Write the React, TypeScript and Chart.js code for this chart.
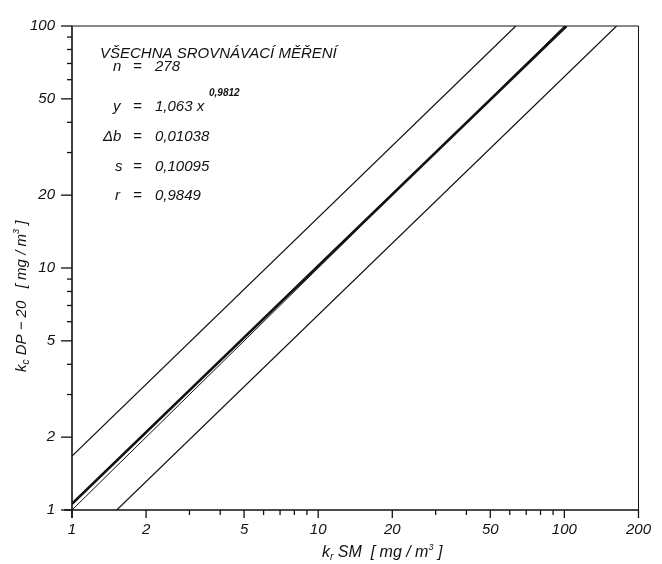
import React, { useEffect, useRef } from "react";
import { Chart, registerables } from "chart.js";

Chart.register(...registerables);

// ---- data ----
const centerLine = [
  { x: 1, y: 1.06 },
  { x: 102, y: 100 },
];
const identityLine = [
  { x: 1, y: 1 },
  { x: 100, y: 100 },
];
const upperLine = [
  { x: 1, y: 1.67 },
  { x: 63.5, y: 100 },
];
const lowerLine = [
  { x: 1.52, y: 1 },
  { x: 163, y: 100 },
];

const xTickValues = [1, 2, 3, 4, 5, 6, 7, 8, 9, 10, 20, 30, 40, 50, 60, 70, 80, 90, 100, 200];
const xTickLabels = [1, 2, 5, 10, 20, 50, 100, 200];
const yTickValues = [1, 2, 3, 4, 5, 6, 7, 8, 9, 10, 20, 30, 40, 50, 60, 70, 80, 90, 100];
const yTickLabels = [1, 2, 5, 10, 20, 50, 100];

const titleText = "VŠECHNA SROVNÁVACÍ MĚŘENÍ";
const statRows = [
  { label: "n", value: "278" },
  { label: "y", value: "1,063 x" },
  { label: "Δb", value: "0,01038" },
  { label: "s", value: "0,10095" },
  { label: "r", value: "0,9849" },
];
const exponentText = "0,9812";

const FONT = "'Liberation Sans', Arial, sans-serif";
const INK = "#111";

function drawRich(ctx: CanvasRenderingContext2D, parts: { t: string; size: number; dy: number }[], x: number, y: number) {
  let cx = x;
  for (const p of parts) {
    ctx.font = `italic ${p.size}px ${FONT}`;
    ctx.fillText(p.t, cx, y + p.dy);
    cx += ctx.measureText(p.t).width;
  }
}

const decorPlugin = {
  id: "decor",
  afterDraw(chart: any) {
    const ctx: CanvasRenderingContext2D = chart.ctx;
    const { left, right, top, bottom } = chart.chartArea;
    const xs = chart.scales.x;
    const ys = chart.scales.y;
    ctx.save();
    ctx.strokeStyle = INK;
    ctx.fillStyle = INK;
    // frame
    ctx.lineWidth = 1;
    ctx.beginPath();
    ctx.moveTo(left, top);
    ctx.lineTo(right, top);
    ctx.lineTo(right, bottom);
    ctx.stroke();
    ctx.lineWidth = 1.6;
    ctx.beginPath();
    ctx.moveTo(left, top);
    ctx.lineTo(left, bottom + 8);
    ctx.moveTo(left - 8, bottom);
    ctx.lineTo(right, bottom);
    ctx.stroke();
    // x ticks
    ctx.lineWidth = 1.3;
    for (const v of xTickValues) {
      const px = xs.getPixelForValue(v);
      const len = xTickLabels.includes(v) ? 8 : 5;
      ctx.beginPath();
      ctx.moveTo(px, bottom);
      ctx.lineTo(px, bottom + len);
      ctx.stroke();
    }
    // y ticks
    for (const v of yTickValues) {
      const py = ys.getPixelForValue(v);
      const len = yTickLabels.includes(v) ? 11 : 5;
      ctx.beginPath();
      ctx.moveTo(left, py);
      ctx.lineTo(left - len, py);
      ctx.stroke();
    }
    // annotations
    ctx.textBaseline = "middle";
    ctx.textAlign = "left";
    ctx.font = `italic 15px ${FONT}`;
    ctx.fillText(titleText, left + 28, top + 28);
    const rowY = [67, 107, 137, 167, 196];
    const labelX = [113, 113, 103, 115, 115];
    ctx.font = `italic 15px ${FONT}`;
    statRows.forEach((r, i) => {
      ctx.fillText(r.label, labelX[i], rowY[i]);
      ctx.fillText("=", 133, rowY[i]);
      ctx.fillText(r.value, 155, rowY[i]);
    });
    ctx.font = `italic bold 10px ${FONT}`;
    ctx.fillText(exponentText, 209, 93);
    // x axis title
    drawRich(
      ctx,
      [
        { t: "k", size: 16, dy: 0 },
        { t: "r", size: 10, dy: 4 },
        { t: " SM  [ mg / m", size: 16, dy: 0 },
        { t: "3", size: 9, dy: -6 },
        { t: " ]", size: 16, dy: 0 },
      ],
      322,
      553
    );
    // y axis title
    ctx.save();
    ctx.translate(22, 372);
    ctx.rotate(-Math.PI / 2);
    drawRich(
      ctx,
      [
        { t: "k", size: 15, dy: 0 },
        { t: "c", size: 10, dy: 4 },
        { t: " DP − 20   [ mg / m", size: 15, dy: 0 },
        { t: "3", size: 9, dy: -6 },
        { t: " ]", size: 15, dy: 0 },
      ],
      0,
      0
    );
    ctx.restore();
    ctx.restore();
  },
};

export default function App() {
  const ref = useRef<HTMLCanvasElement>(null);
  useEffect(() => {
    if (!ref.current) return;
    const lineDs = (label: string, data: any[], w: number) => ({
      label,
      data,
      showLine: true,
      borderColor: INK,
      backgroundColor: INK,
      borderWidth: w,
      pointRadius: 0,
      fill: false,
    });
    const chart = new Chart(ref.current, {
      type: "scatter",
      data: {
        datasets: [
          lineDs("upper", upperLine, 1.2),
          lineDs("identity", identityLine, 1),
          lineDs("regression", centerLine, 2.6),
          lineDs("lower", lowerLine, 1.2),
        ],
      },
      options: {
        responsive: false,
        animation: false,
        layout: { padding: { top: 15, right: 15, left: 0, bottom: 0 } },
        plugins: { legend: { display: false }, tooltip: { enabled: false } },
        scales: {
          x: {
            type: "logarithmic",
            min: 1,
            max: 200,
            grid: { display: false, drawTicks: false },
            border: { display: false },
            afterBuildTicks: (axis: any) => {
              axis.ticks = xTickValues.map((v) => ({ value: v }));
            },
            afterFit: (axis: any) => {
              axis.height = 54;
            },
            ticks: {
              autoSkip: false,
              maxRotation: 0,
              padding: 11,
              color: INK,
              font: { family: FONT, size: 15, style: "italic" },
              callback: (v: any) => (xTickLabels.includes(Number(v)) ? String(v) : ""),
            },
          },
          y: {
            type: "logarithmic",
            min: 1,
            max: 100,
            grid: { display: false, drawTicks: false },
            border: { display: false },
            afterBuildTicks: (axis: any) => {
              axis.ticks = yTickValues.map((v) => ({ value: v }));
            },
            afterFit: (axis: any) => {
              axis.width = 72;
            },
            ticks: {
              autoSkip: false,
              padding: 17,
              color: INK,
              font: { family: FONT, size: 15, style: "italic" },
              callback: (v: any) => (yTickLabels.includes(Number(v)) ? String(v) : ""),
            },
          },
        },
      },
      plugins: [decorPlugin],
    });
    return () => chart.destroy();
  }, []);
  return (
    <div style={{ position: "fixed", left: 0, top: 0, width: 662, height: 564, background: "#fff" }}>
      <canvas ref={ref} width={662} height={564} style={{ display: "block" }} />
    </div>
  );
}
